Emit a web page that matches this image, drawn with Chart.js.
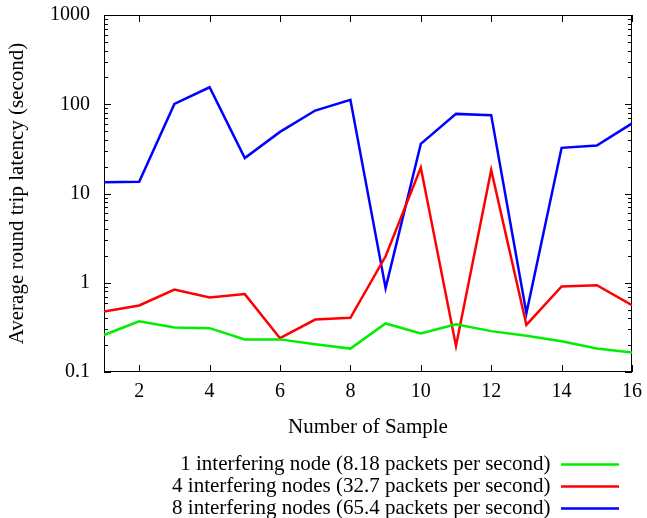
<!DOCTYPE html>
<html>
<head>
    <title>Average round trip latency</title>
    <script src="https://cdn.jsdelivr.net/npm/chart.js"></script>
    <style>
        body { margin: 0; background: #fff; }
    </style>
</head>
<body>

<canvas id="latencyChart" width="647" height="518"></canvas>

<script>
    // Data
    const samples = [1, 2, 3, 4, 5, 6, 7, 8, 9, 10, 11, 12, 13, 14, 15, 16];
    const oneNode = [0.26, 0.37, 0.315, 0.31, 0.232, 0.232, 0.205, 0.183, 0.35, 0.27, 0.343, 0.287, 0.255, 0.221, 0.183, 0.165];
    const fourNodes = [0.477, 0.556, 0.84, 0.684, 0.746, 0.239, 0.387, 0.405, 1.98, 19.5, 0.196, 18.3, 0.337, 0.91, 0.94, 0.56];
    const eightNodes = [13.4, 13.5, 101, 155, 25, 49, 85, 112, 0.87, 36, 78, 75.5, 0.456, 32.5, 34.5, 61];
    const seriesLabels = [
        '1 interfering node (8.18 packets per second)',
        '4 interfering nodes (32.7 packets per second)',
        '8 interfering nodes (65.4 packets per second)'
    ];
    const seriesColors = ['#00ee00', '#ff0000', '#0000ff'];
    const xTickValues = [2, 4, 6, 8, 10, 12, 14, 16];
    const yTickValues = [0.1, 1, 10, 100, 1000];

    const serif = 'Liberation Serif, Times New Roman, serif';
    const plotBottom = 372;
    const bottomPad = -11;

    function toPoints(values) {
        return samples.map((s, i) => ({x: s, y: values[i]}));
    }

    function makeDataset(i, values) {
        return {
            label: seriesLabels[i],
            data: toPoints(values),
            borderColor: seriesColors[i],
            backgroundColor: seriesColors[i],
            pointBorderColor: seriesColors[i],
            pointBackgroundColor: seriesColors[i],
            borderWidth: 2.5,
            pointBorderWidth: 2.5
        };
    }

    // gnuplot style frame with inward ticks on all four sides
    const frameTicks = {
        id: 'frameTicks',
        afterLayout(chart) {
            // pull the legend in from the right edge a little
            if (chart.legend) {
                chart.legend.width -= 12;
                chart.legend.right -= 12;
            }
        },
        beforeDatasetsDraw(chart) {
            const {ctx, chartArea: a, scales: {x, y}} = chart;
            ctx.save();
            ctx.strokeStyle = '#000';
            ctx.lineWidth = 1;
            ctx.beginPath();
            xTickValues.forEach(v => {
                const px = Math.round(x.getPixelForValue(v)) + 0.5;
                ctx.moveTo(px, a.bottom);
                ctx.lineTo(px, a.bottom - 7);
                ctx.moveTo(px, a.top);
                ctx.lineTo(px, a.top + 7);
            });
            yTickValues.forEach(d => {
                for (let m = 1; m <= 9; m++) {
                    const v = d * m;
                    if (v > 1000) break;
                    const len = m === 1 ? 7 : 4;
                    const py = Math.round(y.getPixelForValue(v)) + 0.5;
                    ctx.moveTo(a.left, py);
                    ctx.lineTo(a.left + len, py);
                    ctx.moveTo(a.right, py);
                    ctx.lineTo(a.right - len, py);
                }
            });
            ctx.stroke();
            ctx.strokeRect(Math.round(a.left) + 0.5, Math.round(a.top) + 0.5,
                Math.round(a.width) - 1, Math.round(a.height) - 1);
            ctx.restore();
        }
    };

    new Chart(document.getElementById('latencyChart'), {
        type: 'line',
        data: {
            datasets: [
                makeDataset(0, oneNode),
                makeDataset(1, fourNodes),
                makeDataset(2, eightNodes)
            ]
        },
        options: {
            responsive: false,
            animation: false,
            elements: {
                line: {tension: 0},
                point: {radius: 0}
            },
            layout: {padding: {top: 15, right: 15, left: 0, bottom: bottomPad}},
            scales: {
                x: {
                    type: 'linear',
                    min: 1,
                    max: 16,
                    afterBuildTicks: s => { s.ticks = xTickValues.map(v => ({value: v})); },
                    afterFit: s => {
                        s.paddingLeft = 0;
                        s.paddingRight = 0;
                        const lh = s.chart.legend ? s.chart.legend.height : 0;
                        s.height = s.chart.height - bottomPad - plotBottom - lh;
                    },
                    grid: {display: false, drawTicks: false},
                    border: {display: false},
                    ticks: {color: '#000', font: {family: serif, size: 20}, padding: 8, maxRotation: 0},
                    title: {display: true, text: 'Number of Sample', color: '#000',
                        font: {family: serif, size: 21}, padding: {top: 4, bottom: 13}}
                },
                y: {
                    type: 'logarithmic',
                    min: 0.1,
                    max: 1000,
                    afterBuildTicks: s => { s.ticks = yTickValues.map(v => ({value: v})); },
                    afterFit: s => {
                        s.width = 104;
                        s.paddingTop = 0;
                        s.paddingBottom = 0;
                    },
                    grid: {display: false, drawTicks: false},
                    border: {display: false},
                    ticks: {color: '#000', font: {family: serif, size: 20}, padding: 14,
                        callback: v => String(v)},
                    title: {display: true, text: 'Average round trip latency (second)', color: '#000',
                        font: {family: serif, size: 21}, padding: {top: 5, bottom: 0}}
                }
            },
            plugins: {
                legend: {
                    position: 'bottom',
                    align: 'start',
                    rtl: true,
                    labels: {
                        color: '#000',
                        font: {family: serif, size: 21},
                        usePointStyle: true,
                        pointStyle: 'line',
                        pointStyleWidth: 58,
                        padding: 1
                    }
                },
                tooltip: {enabled: false}
            }
        },
        plugins: [frameTicks]
    });
</script>
</body>
</html>
